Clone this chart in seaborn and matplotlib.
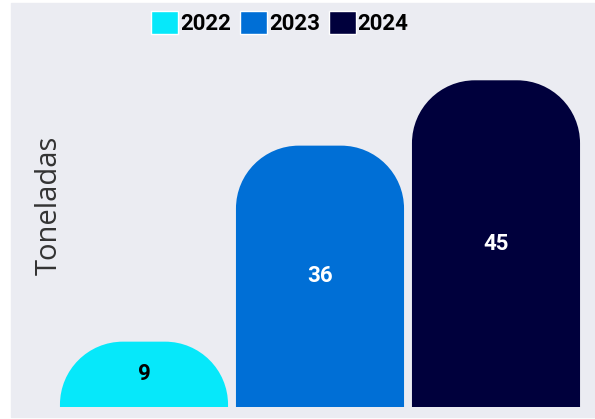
import matplotlib
matplotlib.use("Agg")
import matplotlib.pyplot as plt
import seaborn as sns
import pandas as pd
from matplotlib.patches import PathPatch, Patch, Rectangle
from matplotlib.path import Path

# data
years = ["2022", "2023", "2024"]
toneladas = [9, 36, 45]
colores = ["#06E8FA", "#006FD6", "#00003C"]
label_colors = ["black", "white", "white"]

df = pd.DataFrame({"year": years, "toneladas": toneladas})

bg = "#EBECF2"
sns.set_theme(style="white", rc={"axes.facecolor": bg})
plt.rcParams["font.family"] = ["Roboto", "DejaVu Sans"]

fig = plt.figure(figsize=(5.95, 4.19), dpi=100, facecolor="white")
fig.patches.append(Rectangle((11 / 595, 2 / 419), 584 / 595, 414 / 419,
                             transform=fig.transFigure, color=bg, zorder=-5))
ax = fig.add_axes([11 / 595, 12 / 419, 584 / 595, 404 / 419])

sns.barplot(data=df, x="year", y="toneladas", hue="year", palette=colores,
            width=0.955, dodge=False, legend=False, saturation=1, ax=ax)

# axis limits (px per unit: 176 in x, 7.26 in y)
px_x, px_y = 176, 7.26
ax.set_xlim(-(144 - 11) / px_x, 2 + (595 - 496) / px_x)
ax.set_ylim(0, 404 / px_y)

# values in the middle of each bar
for cont, c in zip(ax.containers, label_colors):
    ax.bar_label(cont, label_type="center", color=c, fontsize=16,
                 fontweight="bold")


def round_top(x0, w, h, rx, ry):
    k = 0.5523
    x1 = x0 + w
    ry = min(ry, h)
    verts = [(x0, 0), (x0, h - ry),
             (x0, h - ry + k * ry), (x0 + rx - k * rx, h), (x0 + rx, h),
             (x1 - rx, h),
             (x1 - rx + k * rx, h), (x1, h - ry + k * ry), (x1, h - ry),
             (x1, 0), (x0, 0)]
    codes = [Path.MOVETO, Path.LINETO,
             Path.CURVE4, Path.CURVE4, Path.CURVE4,
             Path.LINETO,
             Path.CURVE4, Path.CURVE4, Path.CURVE4,
             Path.LINETO, Path.CLOSEPOLY]
    return Path(verts, codes)


# rounded tops
rx = 63 / px_x
ry = 63 / px_y
for p in list(ax.patches):
    x0, w, h = p.get_x(), p.get_width(), p.get_height()
    fc = p.get_facecolor()
    p.set_visible(False)
    ax.add_patch(PathPatch(round_top(x0, w, h, rx, ry), facecolor=fc,
                           edgecolor="none", zorder=1))

ax.set_xticks([])
ax.set_yticks([])
ax.set_xlabel("")
ax.set_ylabel("Toneladas", fontsize=21, color="#333333",
              family=["Open Sans", "DejaVu Sans"])
ax.yaxis.set_label_coords((64 - 11) / 584, 0.5)
sns.despine(ax=ax, left=True, bottom=True)

handles = [Patch(facecolor=c, label=y) for y, c in zip(years, colores)]
fig.legend(handles=handles, loc="center", bbox_to_anchor=(280 / 595, 1 - 23 / 419),
           ncol=3, frameon=False, handlelength=1.2, handleheight=1.25,
           handletextpad=0.1, columnspacing=0.4, labelcolor="black",
           prop={"weight": "bold", "size": 16})

fig.savefig("out.png", dpi=100)
